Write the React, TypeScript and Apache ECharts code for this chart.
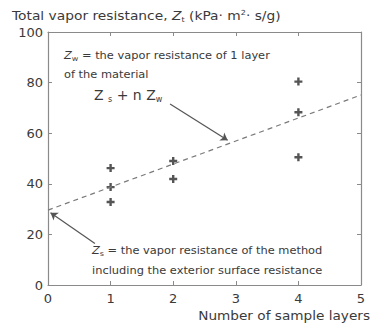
import React, { useEffect, useRef } from "react";
import * as echarts from "echarts";

const xTicks = [0, 1, 2, 3, 4, 5];
const yTicks = [0, 20, 40, 60, 80, 100];
const measuredPoints: [number, number][] = [
  [1, 46.2], [1, 38.7], [1, 32.8],
  [2, 49.0], [2, 41.9],
  [4, 80.4], [4, 68.3], [4, 50.5],
];
const fitLine: [number, number][] = [[0, 29.6], [5, 75.1]];
const arrowToFit: [number, number][] = [[1.95, 71.5], [2.87, 57.2]];
const arrowToIntercept: [number, number][] = [[0.75, 16.4], [0.04, 28.6]];

const FONT = "DejaVu Sans, Verdana, sans-serif";
const TXT = "#3a3a3a";

export default function App() {
  const ref = useRef<HTMLDivElement>(null);
  useEffect(() => {
    const chart = echarts.init(ref.current!, null, { renderer: "svg" });
    const axisLine = { show: true, onZero: false, lineStyle: { color: "#8a8a8a", width: 1.2 } };
    const tickIn = { show: true, inside: true, length: 4, lineStyle: { color: "#8a8a8a" } };
    const sub = { fontSize: 7, padding: [6, 0, 0, 0], fontFamily: FONT, fill: TXT, color: TXT } as any;
    chart.setOption({
      animation: false,
      backgroundColor: "#fff",
      grid: { left: 48, top: 32, right: 15, bottom: 41 },
      xAxis: [
        {
          type: "value", min: 0, max: 5, interval: 1, position: "bottom",
          axisLine, axisTick: tickIn, splitLine: { show: false },
          axisLabel: { color: TXT, fontSize: 13, fontFamily: FONT, margin: 7 },
        },
        {
          type: "value", min: 0, max: 5, interval: 1, position: "top",
          axisLine, axisTick: tickIn, splitLine: { show: false }, axisLabel: { show: false },
        },
      ],
      yAxis: [
        {
          type: "value", min: 0, max: 100, interval: 20, position: "left",
          axisLine, axisTick: tickIn, splitLine: { show: false },
          axisLabel: { color: TXT, fontSize: 13, fontFamily: FONT, margin: 5 },
        },
        {
          type: "value", min: 0, max: 100, interval: 20, position: "right",
          axisLine, axisTick: tickIn, splitLine: { show: false }, axisLabel: { show: false },
        },
      ],
      series: [
        {
          type: "line", data: fitLine, symbol: "none",
          lineStyle: { color: "#7a7a7a", width: 1.2, type: [5, 4] },
          markLine: {
            silent: true, symbol: ["none", "arrow"], symbolSize: 7, label: { show: false },
            lineStyle: { color: "#555", width: 1.2, type: "solid" },
            data: [
              [{ coord: arrowToFit[0] }, { coord: arrowToFit[1] }],
              [{ coord: arrowToIntercept[0] }, { coord: arrowToIntercept[1] }],
            ],
          },
        },
        {
          type: "scatter", data: measuredPoints,
          symbol: "path://M3.5,0 L6.5,0 L6.5,3.5 L10,3.5 L10,6.5 L6.5,6.5 L6.5,10 L3.5,10 L3.5,6.5 L0,6.5 L0,3.5 L3.5,3.5 Z",
          symbolSize: 8, itemStyle: { color: "#2a2a2a" },
        },
      ],
      graphic: [
        {
          type: "text", x: 12, y: 9, scaleX: 1.15,
          style: {
            text: "Total vapor resistance, {i|Z}{s|t} (kPa· m{sup|2}· s/g)",
            verticalAlign: "top",
            fontSize: 12, fontFamily: FONT, fill: TXT,
            rich: {
              i: { fontSize: 12, fontStyle: "italic", fontFamily: FONT, fill: TXT },
              s: { fontSize: 7, fontFamily: FONT, fill: TXT, padding: [7, 0, 0, 0] },
              sup: { fontSize: 7, fontFamily: FONT, fill: TXT, padding: [0, 0, 6, 0] },
            },
          },
        },
        {
          type: "text", x: 64, y: 46, scaleX: 1.14,
          style: {
            text: "{i|Z}{s|w} = the vapor resistance of 1 layer\nof the material",
            verticalAlign: "top",
            fontSize: 10, lineHeight: 19, fontFamily: FONT, fill: TXT,
            rich: {
              i: { fontSize: 10, fontStyle: "italic", fontFamily: FONT, fill: TXT },
              s: sub,
            },
          },
        },
        {
          type: "text", x: 94, y: 87,
          style: {
            text: "Z {s|s} + n Z{s|w}",
            verticalAlign: "top",
            fontSize: 14, fontFamily: FONT, fill: TXT,
            rich: { s: { ...sub, fontSize: 8, padding: [8, 0, 0, 0] } },
          },
        },
        {
          type: "text", x: 92, y: 241, scaleX: 1.14,
          style: {
            text: "{i|Z}{s|s} = the vapor resistance of the method\nincluding the exterior surface resistance",
            verticalAlign: "top",
            fontSize: 10, lineHeight: 20, fontFamily: FONT, fill: TXT,
            rich: {
              i: { fontSize: 10, fontStyle: "italic", fontFamily: FONT, fill: TXT },
              s: sub,
            },
          },
        },
        {
          type: "text", x: 370, y: 309, scaleX: 1.05,
          style: { text: "Number of sample layers", align: "right", verticalAlign: "top", fontSize: 13, fontFamily: FONT, fill: TXT },
        },
      ],
    });
    return () => chart.dispose();
  }, []);
  return <div ref={ref} style={{ width: 376, height: 326, position: "absolute", left: 0, top: 0 }} />;
}
